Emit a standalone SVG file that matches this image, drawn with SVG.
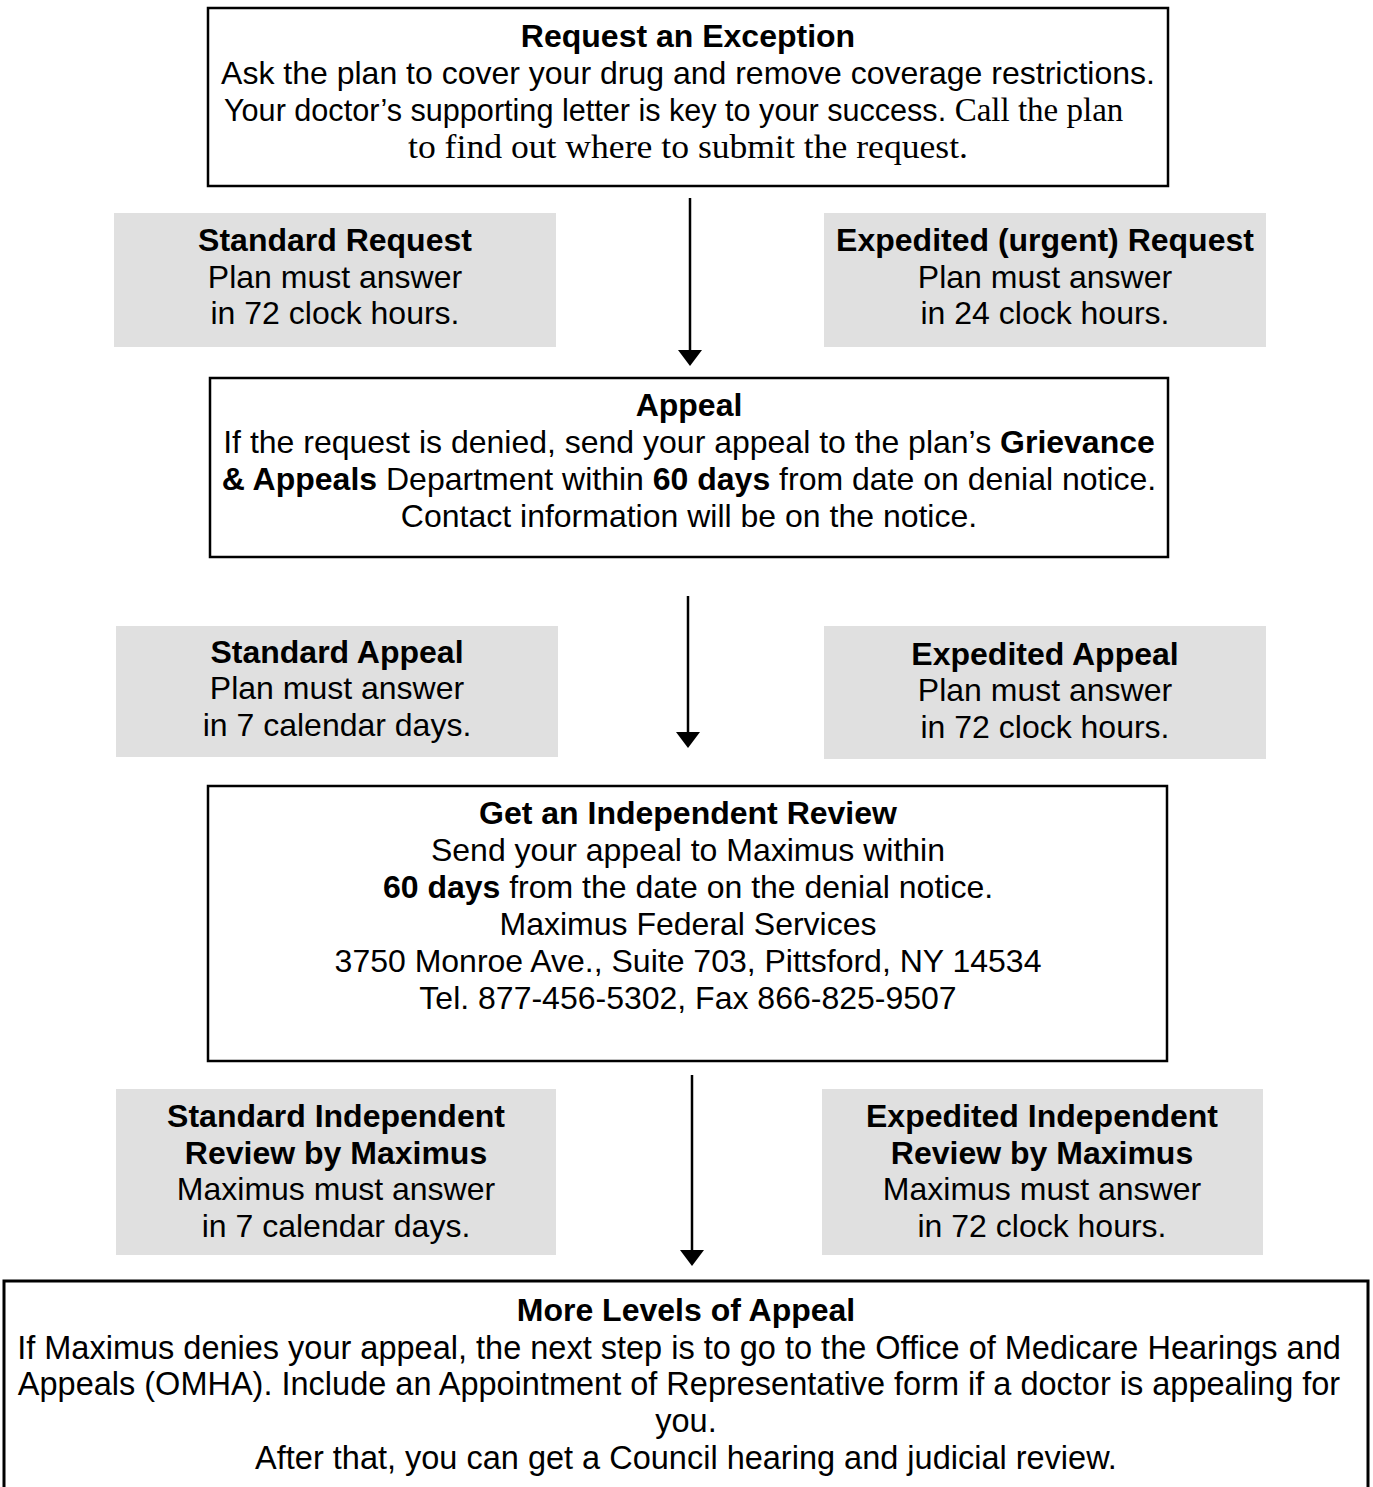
<svg xmlns="http://www.w3.org/2000/svg" width="1373" height="1487" viewBox="0 0 1373 1487">
<defs>
<style>
.box{fill:#fff;stroke:#000;stroke-width:2.5}
.gray{fill:#e0e0e0;stroke:none}
text{font-family:"Liberation Sans",Arial,sans-serif;font-size:32px;fill:#000;text-anchor:middle}
.b{font-weight:bold}
.st{text-anchor:start}
.serif{font-family:"Liberation Serif","Times New Roman",serif}
.conn{stroke:#000;stroke-width:2.5;fill:none}
.head{fill:#000}
.big{font-size:32.5px}
</style>
</defs>
<g id="connectors">
<line class="conn" x1="690" y1="198" x2="690" y2="352"/>
<path class="head" d="M678,350 L702,350 L690,366 Z"/>
<line class="conn" x1="688" y1="596" x2="688" y2="734"/>
<path class="head" d="M676,732 L700,732 L688,748 Z"/>
<line class="conn" x1="692" y1="1075" x2="692" y2="1252"/>
<path class="head" d="M680,1250 L704,1250 L692,1266 Z"/>
</g>
<g id="request-exception">
<rect class="box" x="208" y="8" width="960" height="178"/>
<text x="688" y="47" class="b">Request an Exception</text>
<text x="688" y="84">Ask the plan to cover your drug and remove coverage restrictions.</text>
<text x="224" y="121" class="st" style="font-size:30.6px">Your doctor’s supporting letter is key to your success. <tspan class="serif" style="font-size:33px">Call the plan</tspan></text>
<text x="688" y="158" class="serif" style="font-size:34px" textLength="560" lengthAdjust="spacingAndGlyphs">to find out where to submit the request.</text>
</g>
<g id="standard-request">
<rect class="gray" x="114" y="213" width="442" height="134"/>
<text x="335" y="251" class="b">Standard Request</text>
<text x="335" y="288">Plan must answer</text>
<text x="335" y="324">in 72 clock hours.</text>
</g>
<g id="expedited-request">
<rect class="gray" x="824" y="213" width="442" height="134"/>
<text x="1045" y="251" class="b">Expedited (urgent) Request</text>
<text x="1045" y="288">Plan must answer</text>
<text x="1045" y="324">in 24 clock hours.</text>
</g>
<g id="appeal">
<rect class="box" x="210" y="378" width="958" height="179"/>
<text x="689" y="416" class="b">Appeal</text>
<text x="689" y="453">If the request is denied, send your appeal to the plan’s <tspan class="b">Grievance</tspan></text>
<text x="689" y="490"><tspan class="b">&amp; Appeals</tspan> Department within <tspan class="b">60 days</tspan> from date on denial notice.</text>
<text x="689" y="527">Contact information will be on the notice.</text>
</g>
<g id="standard-appeal">
<rect class="gray" x="116" y="626" width="442" height="131"/>
<text x="337" y="663" class="b">Standard Appeal</text>
<text x="337" y="699">Plan must answer</text>
<text x="337" y="736">in 7 calendar days.</text>
</g>
<g id="expedited-appeal">
<rect class="gray" x="824" y="626" width="442" height="133"/>
<text x="1045" y="665" class="b">Expedited Appeal</text>
<text x="1045" y="701">Plan must answer</text>
<text x="1045" y="738">in 72 clock hours.</text>
</g>
<g id="independent-review">
<rect class="box" x="208" y="786" width="959" height="275"/>
<text x="688" y="824" class="b">Get an Independent Review</text>
<text x="688" y="861">Send your appeal to Maximus within</text>
<text x="688" y="898"><tspan class="b">60 days</tspan> from the date on the denial notice.</text>
<text x="688" y="935">Maximus Federal Services</text>
<text x="688" y="972">3750 Monroe Ave., Suite 703, Pittsford, NY 14534</text>
<text x="688" y="1009">Tel. 877-456-5302, Fax 866-825-9507</text>
</g>
<g id="standard-independent-review">
<rect class="gray" x="116" y="1089" width="440" height="166"/>
<text x="336" y="1127" class="b">Standard Independent</text>
<text x="336" y="1164" class="b">Review by Maximus</text>
<text x="336" y="1200">Maximus must answer</text>
<text x="336" y="1237">in 7 calendar days.</text>
</g>
<g id="expedited-independent-review">
<rect class="gray" x="822" y="1089" width="441" height="166"/>
<text x="1042" y="1127" class="b">Expedited Independent</text>
<text x="1042" y="1164" class="b">Review by Maximus</text>
<text x="1042" y="1200">Maximus must answer</text>
<text x="1042" y="1237">in 72 clock hours.</text>
</g>
<g id="more-levels">
<rect class="box" x="4" y="1281" width="1364" height="230" style="stroke-width:3"/>
<text x="686" y="1321" class="b">More Levels of Appeal</text>
<text x="679" y="1359" class="big">If Maximus denies your appeal, the next step is to go to the Office of Medicare Hearings and</text>
<text x="679" y="1395" class="big">Appeals (OMHA). Include an Appointment of Representative form if a doctor is appealing for</text>
<text x="686" y="1432" class="big">you.</text>
<text x="686" y="1469" class="big">After that, you can get a Council  hearing and judicial review.</text>
</g>
</svg>
